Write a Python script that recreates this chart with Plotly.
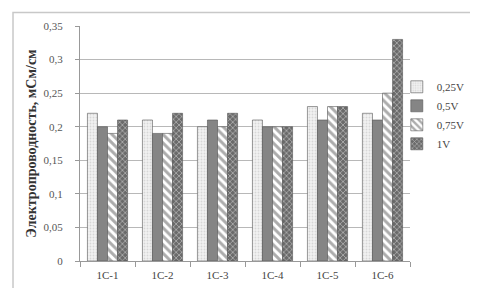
import plotly.graph_objects as go

categories = ["1C-1", "1C-2", "1C-3", "1C-4", "1C-5", "1C-6"]
series_names = ["0,25V", "0,5V", "0,75V", "1V"]
v025 = [0.22, 0.21, 0.20, 0.21, 0.23, 0.22]
v05 = [0.20, 0.19, 0.21, 0.20, 0.21, 0.21]
v075 = [0.19, 0.19, 0.20, 0.20, 0.23, 0.25]
v1 = [0.21, 0.22, 0.22, 0.20, 0.23, 0.33]
y_title = "Электропроводность, мСм/см"

styles = [
    dict(color="#eeeeee", pattern=dict(shape=".", fgcolor="#bbbbbb", bgcolor="#f2f2f2", size=3, solidity=0.3)),
    dict(color="#858585"),
    dict(color="white", pattern=dict(shape="\\", fgcolor="#5a5a5a", bgcolor="white", size=6, solidity=0.5)),
    dict(color="#777777", pattern=dict(shape="x", fgcolor="white", bgcolor="#6a6a6a", size=4, solidity=0.35)),
]

fig = go.Figure()
for name, vals, st in zip(series_names, [v025, v05, v075, v1], styles):
    marker = dict(line=dict(color="#555555", width=0.6))
    marker.update(st)
    fig.add_trace(go.Bar(x=categories, y=vals, name=name, marker=marker))

serif = "Liberation Serif, Times New Roman, serif"
fig.update_layout(
    width=478, height=288,
    margin=dict(l=72, r=76, t=18, b=35, autoexpand=False),
    paper_bgcolor="white", plot_bgcolor="white",
    separators=", ",
    barmode="group", bargap=0.27, bargroupgap=0,
    font=dict(family=serif, color="#444444", size=10),
    legend=dict(x=0.96, y=0.62, xanchor="left", yanchor="middle",
                font=dict(family=serif, size=11, color="#444444"),
                bgcolor="rgba(0,0,0,0)",
                itemwidth=30, tracegroupgap=0),
    showlegend=True,
    shapes=[dict(type="rect", xref="paper", yref="paper",
                 x0=-0.203, x1=1.209, y0=-0.121, y1=1.057,
                 line=dict(color="#c8c8c8", width=1.5), fillcolor="rgba(0,0,0,0)", layer="below")],
)
fig.update_yaxes(range=[0, 0.35], dtick=0.05, showgrid=True, gridcolor="#b8b8b8", gridwidth=1,
                 showline=True, linecolor="#999999", ticks="outside", ticklen=4, tickcolor="#999999",
                 ticklabelstandoff=10, automargin=False,
                 tickfont=dict(family=serif, size=11, color="#555555"),
                 title=dict(text="<b>" + y_title + "</b>", font=dict(family=serif, size=14, color="#333333"), standoff=3),
                 zeroline=False)
fig.update_xaxes(showline=True, linecolor="#999999", ticks="outside", ticklen=5, tickcolor="#999999",
                 tickson="boundaries", ticklabelstandoff=4, automargin=False,
                 tickfont=dict(family=serif, size=11, color="#444444"))

fig.write_html("out.html")
